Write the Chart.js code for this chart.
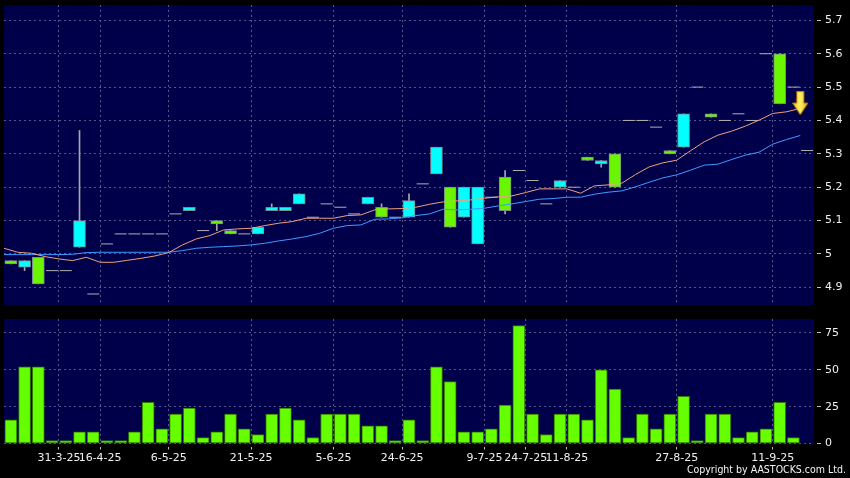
<!DOCTYPE html>
<html><head><meta charset="utf-8">
<script src="https://cdn.jsdelivr.net/npm/chart.js@4.4.1/dist/chart.umd.min.js"></script>
<style>
html,body{margin:0;padding:0;background:#000;width:850px;height:478px;overflow:hidden}
#wrap{position:relative;width:850px;height:478px;background:#000}
#pc{position:absolute;left:0;top:0}
#vc{position:absolute;left:0;top:310px}
#copy{position:absolute;right:4px;top:463px;color:#f4f4f4;font:10.5px "DejaVu Sans Condensed","DejaVu Sans",sans-serif;white-space:nowrap}
</style></head><body>
<div id="wrap">
<canvas id="pc" width="850" height="310"></canvas>
<canvas id="vc" width="850" height="168"></canvas>
<div id="copy">Copyright by AASTOCKS.com Ltd.</div>
</div>
<script>
// ---- data (one entry per trading slot) ----
const openP  = [4.98,4.96,4.99,4.95,4.95,5.02,4.88,5.03,5.06,5.06,5.06,5.06,5.12,5.13,5.07,5.10,5.07,5.06,5.06,5.13,5.13,5.15,5.11,5.15,5.14,5.12,5.15,5.14,5.11,5.11,5.21,5.24,5.20,5.11,5.03,5.17,5.23,5.25,5.22,5.15,5.20,5.20,5.29,5.27,5.30,5.40,5.40,5.38,5.31,5.32,5.50,5.42,5.40,5.42,5.40,5.60,5.60,5.50,5.31];
const highP  = [4.98,4.98,4.99,4.95,4.95,5.37,4.88,5.03,5.06,5.06,5.06,5.06,5.12,5.14,5.07,5.10,5.07,5.06,5.08,5.15,5.14,5.18,5.11,5.15,5.14,5.12,5.17,5.15,5.11,5.18,5.21,5.32,5.20,5.20,5.20,5.17,5.25,5.25,5.22,5.15,5.22,5.20,5.29,5.28,5.30,5.40,5.40,5.38,5.31,5.42,5.50,5.42,5.40,5.42,5.40,5.60,5.60,5.50,5.31];
const lowP   = [4.97,4.95,4.91,4.95,4.95,5.02,4.88,5.03,5.06,5.06,5.06,5.06,5.12,5.13,5.07,5.07,5.06,5.06,5.06,5.13,5.13,5.15,5.11,5.15,5.14,5.12,5.15,5.11,5.11,5.11,5.21,5.24,5.08,5.11,5.03,5.17,5.12,5.25,5.22,5.15,5.20,5.20,5.28,5.26,5.20,5.40,5.40,5.38,5.30,5.32,5.50,5.41,5.40,5.42,5.40,5.60,5.45,5.50,5.31];
const closeP = [4.97,4.98,4.91,4.95,4.95,5.10,4.88,5.03,5.06,5.06,5.06,5.06,5.12,5.14,5.07,5.09,5.06,5.06,5.08,5.14,5.14,5.18,5.11,5.15,5.14,5.12,5.17,5.11,5.11,5.16,5.21,5.32,5.08,5.20,5.20,5.17,5.13,5.25,5.22,5.15,5.22,5.20,5.28,5.28,5.20,5.40,5.40,5.38,5.30,5.42,5.50,5.41,5.40,5.42,5.40,5.60,5.45,5.50,5.31];
const volume = [16,52,52,2,2,8,8,2,2,8,28,10,20,24,4,8,20,10,6,20,24,16,4,20,20,20,12,12,2,16,2,52,42,8,8,10,26,80,20,6,20,20,16,50,37,4,20,10,20,32,2,20,20,4,8,10,28,4,0];
const maShort = [5.017,5.005,5.002,4.992,4.985,4.980,4.990,4.975,4.975,4.981,4.987,4.994,5.004,5.027,5.045,5.055,5.072,5.075,5.077,5.085,5.092,5.097,5.107,5.107,5.107,5.115,5.117,5.132,5.135,5.136,5.140,5.149,5.156,5.159,5.162,5.167,5.171,5.174,5.184,5.195,5.195,5.195,5.182,5.204,5.207,5.212,5.238,5.261,5.273,5.281,5.309,5.336,5.356,5.368,5.383,5.401,5.421,5.426,5.436];
const maLong  = [4.998,4.998,4.998,4.998,4.998,4.999,5.004,5.005,5.005,5.005,5.005,5.005,5.005,5.010,5.017,5.020,5.022,5.024,5.027,5.032,5.039,5.045,5.052,5.062,5.077,5.085,5.087,5.104,5.105,5.108,5.115,5.120,5.134,5.132,5.134,5.137,5.144,5.150,5.157,5.164,5.166,5.170,5.170,5.179,5.185,5.189,5.201,5.215,5.228,5.237,5.251,5.266,5.269,5.283,5.296,5.305,5.329,5.343,5.355];
const dateLabels = ["31-3-25","16-4-25","6-5-25","21-5-25","5-6-25","24-6-25","9-7-25","24-7-25","11-8-25","27-8-25","11-9-25"];
const dateSlots  = [4,7,12,18,24,29,35,38,41,49,56];
const priceTicks = [4.9,5.0,5.1,5.2,5.3,5.4,5.5,5.6,5.7];
const volumeTicks = [0,25,50,75];
const signalSlot = [58];
const signalPrice = [5.452];

// ---- styling ----
const NAVY = '#00004a';
const GRID = '#55558a';
const GREEN = '#6cf500';
const CYAN = '#00ffff';
const FONT = {family:'"DejaVu Sans", sans-serif', size:11};
const N = closeP.length;

const bgPlugin = {id:'bg', beforeDraw(c){const a=c.chartArea, x=c.ctx; x.save(); x.fillStyle=NAVY; x.fillRect(a.left,a.top,a.right-a.left,a.bottom-a.top); x.restore();}};
const noPad = s => { s.paddingTop=0; s.paddingBottom=0; s.paddingLeft=0; s.paddingRight=0; };

const isFlat = i => openP[i]===closeP[i] && highP[i]===lowP[i] && highP[i]===openP[i];
const wickData=[], bodyData=[], bodyColors=[], flatData=[];
for (let i=0;i<N;i++){
  const xc = i+0.5;
  if (isFlat(i)) { flatData.push({x:xc,y:closeP[i]}); continue; }
  wickData.push({x:xc,y:[lowP[i],highP[i]]});
  bodyData.push({x:xc,y:[openP[i],closeP[i]]});
  bodyColors.push(closeP[i]>openP[i]?CYAN:GREEN);
}
const maS = maShort.map((v,i)=>({x:i,y:v}));
const maL = maLong.map((v,i)=>({x:i,y:v}));
const sig = signalSlot.map((s,i)=>({x:s,y:signalPrice[i]}));

// arrow marker image
const arrow = document.createElement('canvas');
arrow.width=16; arrow.height=24;
(function(){const g=arrow.getContext('2d');
  const gr=g.createLinearGradient(0,0,16,0); gr.addColorStop(0,'#ffd21a'); gr.addColorStop(0.5,'#fff06a'); gr.addColorStop(1,'#e8a000');
  g.beginPath(); g.moveTo(4.5,0.5); g.lineTo(11.5,0.5); g.lineTo(11.5,12); g.lineTo(15.5,12); g.lineTo(8,23.5); g.lineTo(0.5,12); g.lineTo(4.5,12); g.closePath();
  g.fillStyle=gr; g.fill(); g.strokeStyle='#c88400'; g.lineWidth=1; g.stroke();})();

const fmt = v => String(Number(Number(v).toFixed(1)));

new Chart(document.getElementById('pc'), {
  data:{datasets:[
    {type:'bar', data:wickData, backgroundColor:'#a8a8a8', barThickness:1, grouped:false, order:5},
    {type:'bar', data:bodyData, backgroundColor:bodyColors, borderColor:'#7a8c8c', borderWidth:1, borderSkipped:false, barThickness:12, grouped:false, order:4},
    {type:'line', data:flatData, showLine:false, pointStyle:'line', pointRadius:6, pointBorderColor:'#b0b0b0', pointBorderWidth:1, order:3},
    {type:'line', data:maL, borderColor:'#3d9cff', borderWidth:1, pointRadius:0, tension:0, order:2},
    {type:'line', data:maS, borderColor:'#f0a080', borderWidth:1, pointRadius:0, tension:0, order:1},
    {type:'line', data:sig, showLine:false, pointStyle:arrow, pointRadius:8, order:0}
  ]},
  options:{
    responsive:false, animation:false, events:[],
    layout:{autoPadding:false, padding:{left:4,top:5,right:0,bottom:0}},
    plugins:{legend:{display:false}, tooltip:{enabled:false}},
    scales:{
      x:{type:'linear', offset:false, min:0, max:N, afterBuildTicks:s=>{s.ticks=dateSlots.map(v=>({value:v}));},
         afterFit:s=>{s.height=5; noPad(s);}, ticks:{display:false},
         grid:{color:GRID, drawTicks:false, offset:false}, border:{display:false, dash:[2,3]}},
      y:{type:'linear', position:'right', min:4.847, max:5.746,
         afterBuildTicks:s=>{s.ticks=priceTicks.map(v=>({value:v}));},
         afterFit:s=>{s.width=36; noPad(s);},
         ticks:{color:'#f0f0f0', font:FONT, padding:4, callback:v=>fmt(v)},
         grid:{color:GRID, tickLength:7, tickColor:'#c0c0c0', tickBorderDash:[0,3,4,30]},
         border:{display:false, dash:[2,3]}}
    }
  },
  plugins:[bgPlugin]
});

new Chart(document.getElementById('vc'), {
  data:{datasets:[
    {type:'bar', data:volume.map((v,i)=>({x:i+0.5,y:v})), backgroundColor:'#66ff00', borderColor:'#2f7a00', borderWidth:1, borderSkipped:false, barThickness:12, grouped:false}
  ]},
  options:{
    responsive:false, animation:false, events:[],
    layout:{autoPadding:false, padding:{left:4,top:9,right:0,bottom:0}},
    plugins:{legend:{display:false}, tooltip:{enabled:false}},
    scales:{
      x:{type:'linear', offset:false, min:0, max:N, afterBuildTicks:s=>{s.ticks=dateSlots.map(v=>({value:v}));},
         afterFit:s=>{s.height=34.5; noPad(s);},
         ticks:{autoSkip:false, maxRotation:0, minRotation:0, color:'#f0f0f0', font:FONT, padding:2,
                callback:(v)=>{const k=dateSlots.indexOf(v); return k>=0?dateLabels[k]:'';}},
         grid:{color:GRID, tickLength:6, tickColor:'#c0c0c0', tickBorderDash:[0,3,3,30], offset:false},
         border:{display:false, dash:[2,3]}},
      y:{type:'linear', position:'right', min:0, max:84.5,
         afterBuildTicks:s=>{s.ticks=volumeTicks.map(v=>({value:v}));},
         afterFit:s=>{s.width=36; noPad(s);},
         ticks:{color:'#f0f0f0', font:FONT, padding:4},
         grid:{color:GRID, tickLength:7, tickColor:'#c0c0c0', tickBorderDash:[0,3,4,30]},
         border:{display:false, dash:[2,3]}}
    }
  },
  plugins:[bgPlugin]
});
</script>
</body></html>
